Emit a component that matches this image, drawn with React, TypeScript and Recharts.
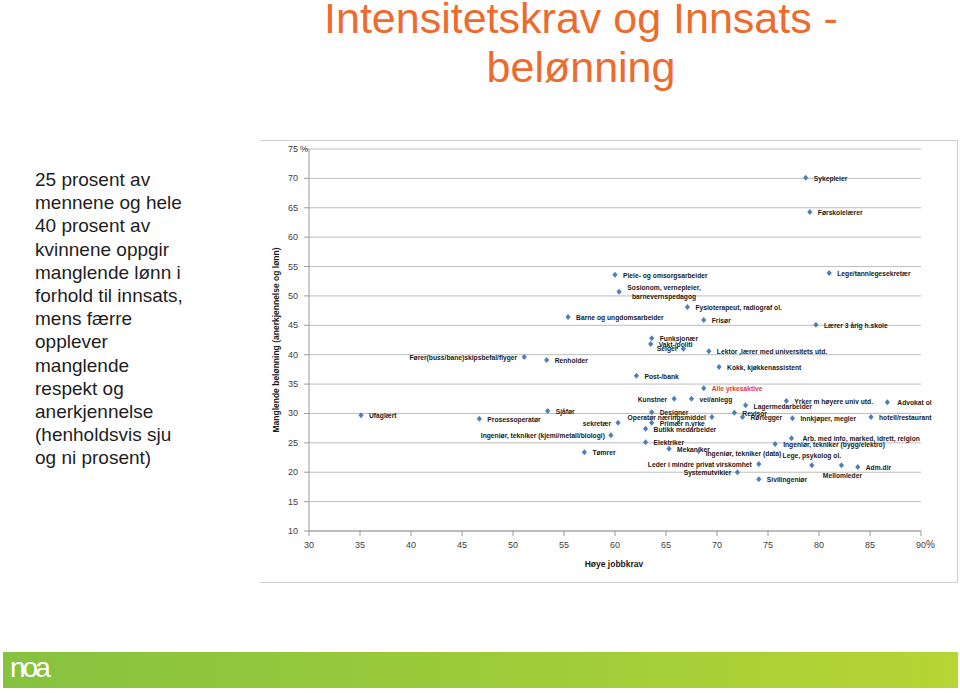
import { ScatterChart, Scatter, XAxis, YAxis, CartesianGrid } from 'recharts';

// Yrke, høye jobbkrav (%) og manglende belønning (%)
const occupations = [
  'Sykepleier', 'Førskolelærer', 'Lege/tannlegesekretær', 'Pleie- og omsorgsarbeider',
  'Sosionom, vernepleier,|barnevernspedagog', 'Fysioterapeut, radiograf ol.', 'Frisør',
  'Barne og ungdomsarbeider', 'Lærer 3 årig h.skole', 'Funksjonær', 'Vakt-/politi', 'Selger',
  'Lektor ,lærer med universitets utd.', 'Fører(buss/bane)skipsbefal/flyger', 'Renholder',
  'Kokk, kjøkkenassistent', 'Post-/bank', 'Alle yrkesaktive', 'Kunstner', 'vei/anlegg',
  'Yrker m høyere univ utd.', 'Advokat ol', 'Lagermedarbeider', 'Ufaglært', 'Sjåfør',
  'Designer', 'Revisor', 'Operatør næringsmiddel', 'Rørlegger', 'Innkjøper, megler',
  'hotell/restaurant', 'Prosessoperatør', 'Primær n.yrke', 'sekretær', 'Butikk medarbeider',
  'Ingeniør, tekniker (kjemi/metall/biologi)', 'Arb. med info, marked, idrett, relgion',
  'Elektriker', 'Ingeniør, tekniker (bygg/elektro)', 'Mekaniker', 'Ingeniør, tekniker (data)',
  'Tømrer', 'Leder i mindre privat virskomhet', 'Lege, psykolog ol.', 'Mellomleder',
  'Adm.dir', 'Systemutvikler', 'Sivilingeniør',
];

const jobDemands = [
  78.7, 79.1, 81.0, 60.0, 60.4, 67.1, 68.7, 55.4, 79.7, 63.6, 63.5, 66.7,
  69.2, 51.1, 53.3, 70.2, 62.1, 68.7, 65.8, 67.5, 76.8, 86.7, 72.8, 35.1,
  53.4, 63.6, 71.7, 69.5, 72.5, 77.4, 85.1, 46.7, 63.6, 60.3, 63.0, 59.6,
  77.3, 63.0, 75.7, 65.3, 68.2, 57.0, 74.1, 79.3, 82.2, 83.8, 72.0, 74.1,
];

const lackOfReward = [
  70.1, 64.3, 53.9, 53.6, 50.7, 48.1, 45.9, 46.4, 45.1, 42.8, 41.8, 41.0,
  40.6, 39.6, 39.1, 37.9, 36.4, 34.3, 32.5, 32.5, 32.1, 31.9, 31.4, 29.7,
  30.4, 30.2, 30.1, 29.4, 29.4, 29.2, 29.4, 29.1, 28.4, 28.4, 27.4, 26.3,
  25.8, 25.1, 24.8, 24.0, 23.6, 23.4, 21.4, 21.2, 21.2, 20.9, 20.0, 18.8,
];

const xTicks = [30, 35, 40, 45, 50, 55, 60, 65, 70, 75, 80, 85, 90];
const yTicks = [10, 15, 20, 25, 30, 35, 40, 45, 50, 55, 60, 65, 70, 75];

const data = occupations.map((name, i) => ({ name, x: jobDemands[i], y: lackOfReward[i] }));

// label placement: [anchor, dx, dy]
const labelPos: Record<string, [string, number, number]> = {
  'Selger': ['end', -6, 2],
  'Fører(buss/bane)skipsbefal/flyger': ['end', -7, 3],
  'Kunstner': ['end', -7, 3],
  'Operatør næringsmiddel': ['end', -6, 3],
  'sekretær': ['end', -7, 3],
  'Ingeniør, tekniker (kjemi/metall/biologi)': ['end', -6, 3],
  'Leder i mindre privat virskomhet': ['end', -7, 3],
  'Systemutvikler': ['end', -6, 3],
  'Lege, psykolog ol.': ['middle', 0, -7],
  'Mellomleder': ['middle', 1, 13],
  'Sosionom, vernepleier,|barnevernspedagog': ['middle', 45, -2],
  'Arb. med info, marked, idrett, relgion': ['start', 11, 3],
  'Advokat ol': ['start', 10, 3],
  'Lagermedarbeider': ['start', 8, 4],
  'Ingeniør, tekniker (data)': ['start', 7, 5],
};

const labelFont = '"Liberation Sans", Arial, sans-serif';

const PointShape = (props: any) => {
  const { cx, cy, payload } = props;
  if (cx == null || cy == null) return null;
  const [anchor, dx, dy] = labelPos[payload.name] || ['start', 8, 3];
  const lines = payload.name.split('|');
  const red = payload.name === 'Alle yrkesaktive';
  return (
    <g>
      <path d={`M${cx},${cy - 3}L${cx + 2.6},${cy}L${cx},${cy + 3}L${cx - 2.6},${cy}Z`} fill="#4f7fba" />
      {lines.map((t: string, i: number) => (
        <text
          key={i}
          transform={`translate(${cx + dx},${cy + dy + i * 9}) scale(0.84,1)`}
          x={0}
          y={0}
          textAnchor={anchor}
          fontFamily={labelFont}
          fontWeight="bold"
          fontSize={8}
          fill={red ? '#e03a3a' : '#1a1a1a'}
        >
          {t}
        </text>
      ))}
    </g>
  );
};

const YTick = (props: any) => {
  const { x, y, payload } = props;
  return (
    <g>
      <text x={x} y={y} dy={3} textAnchor="end" fontSize={9} fontFamily="Liberation Sans, Arial" fill="#404040">
        {payload.value}
      </text>
      {payload.value === 75 && (
        <text x={x + 2} y={y} dy={3} textAnchor="start" fontSize={9} fontFamily="Liberation Sans, Arial" fill="#404040">%</text>
      )}
    </g>
  );
};

const XTick = (props: any) => {
  const { x, y, payload } = props;
  return (
    <g>
      <text x={x} y={y} dy={8} textAnchor="middle" fontSize={9} fontFamily="Liberation Sans, Arial" fill="#404040">
        {payload.value}
      </text>
      {payload.value === 90 && (
        <text x={x + 5} y={y} dy={8} textAnchor="start" fontSize={10} fontFamily="Liberation Sans, Arial" fill="#404040">%</text>
      )}
    </g>
  );
};

export default function App() {
  return (
    <div style={{ position: 'absolute', left: 0, top: 0, width: 960, height: 693, background: '#fff', overflow: 'hidden', fontFamily: '"Liberation Sans", Arial, sans-serif' }}>
      <div style={{ position: 'absolute', left: 280, width: 602, top: -6, textAlign: 'center', color: '#ec6b2d', fontSize: 43, lineHeight: '49.3px' }}>
        Intensitetskrav og Innsats -<br />belønning
      </div>

      <div style={{ position: 'absolute', left: 35, top: 168, width: 230, color: '#1e1e1e', fontSize: 19, lineHeight: '23.2px' }}>
        25 prosent av<br />mennene og hele<br />40 prosent av<br />kvinnene oppgir<br />manglende lønn i<br />
        forhold til innsats,<br />mens færre<br />opplever<br />manglende<br />respekt og<br />anerkjennelse<br />
        (henholdsvis sju<br />og ni prosent)
      </div>

      <div style={{ position: 'absolute', left: 260, top: 140, width: 697, height: 441, borderTop: '1px solid #cfcfcf', borderRight: '1px solid #cfcfcf', borderBottom: '1px solid #cfcfcf' }} />

      <div style={{ position: 'absolute', left: 0, top: 0 }}>
        <ScatterChart width={960} height={693} margin={{ top: 149, right: 39, left: 249, bottom: 132 }}>
          <CartesianGrid vertical={false} stroke="#bdbdbd" />
          <XAxis
            type="number"
            dataKey="x"
            domain={[30, 90]}
            ticks={xTicks}
            interval={0}
            height={30}
            tickSize={5}
            tickMargin={4}
            stroke="#9a9a9a"
            tick={<XTick />}
          />
          <YAxis
            type="number"
            dataKey="y"
            domain={[10, 75]}
            ticks={yTicks}
            interval={0}
            width={60}
            tickSize={5}
            tickMargin={6}
            stroke="#9a9a9a"
            tick={<YTick />}
          />
          <Scatter data={data} shape={<PointShape />} isAnimationActive={false} />
        </ScatterChart>
      </div>

      <div style={{ position: 'absolute', left: 276 - 120, top: 340 - 6, width: 240, textAlign: 'center', transform: 'rotate(-90deg)', fontFamily: labelFont, fontWeight: 'bold', fontSize: 8.5, lineHeight: '12px', color: '#1a1a1a' }}>
        Manglende belønning (anerkjennelse og lønn)
      </div>
      <div style={{ position: 'absolute', left: 514, top: 558, width: 200, textAlign: 'center', fontFamily: labelFont, fontWeight: 'bold', fontSize: 8.5, lineHeight: '12px', color: '#1a1a1a' }}>
        Høye jobbkrav
      </div>

      <div style={{ position: 'absolute', left: 3, top: 652, width: 955, height: 36, background: 'linear-gradient(90deg, #86c240 0%, #9ccb3a 50%, #b7d534 100%)' }}>
        <div style={{ position: 'absolute', left: 7, top: 1, color: '#fff', fontSize: 28, fontWeight: 300, letterSpacing: -3, lineHeight: '30px' }}>noa</div>
      </div>
    </div>
  );
}
